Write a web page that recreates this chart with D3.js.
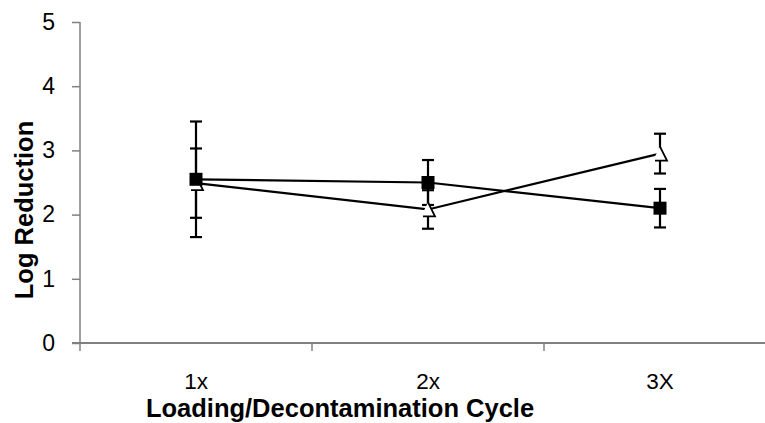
<!DOCTYPE html>
<html>
<head>
<meta charset="utf-8">
<script src="https://cdn.jsdelivr.net/npm/d3@7"></script>
<style>
  html, body { margin: 0; padding: 0; background: #fff; }
  svg { display: block; font-family: "Liberation Sans", Arial, sans-serif; }
</style>
</head>
<body>
<svg id="chart" width="765" height="423"></svg>
<script>
// ---- data ----
const categories = ["1x", "2x", "3X"];
const squareValues = [2.55, 2.50, 2.10];
const squareErrors = [0.90, 0.35, 0.30];
const triangleValues = [2.49, 2.08, 2.95];
const triangleErrors = [0.54, 0.30, 0.31];
const yTicks = [0, 1, 2, 3, 4, 5];

const svg = d3.select("#chart");
const x = d3.scaleBand().domain(categories).range([80, 776]).paddingInner(0).paddingOuter(0);
const y = d3.scaleLinear().domain([0, 5]).range([343, 22]);
const cx = c => x(c) + x.bandwidth() / 2;
const axisColor = "#808080";

// y axis
const yAxis = svg.append("g").attr("transform", "translate(80,0)")
  .call(d3.axisLeft(y).tickValues(yTicks).tickSize(8).tickPadding(17).tickFormat(d3.format("d")));
yAxis.select(".domain").remove();
yAxis.selectAll(".tick line").attr("stroke", axisColor).attr("stroke-width", 1.5);
yAxis.selectAll(".tick text").attr("font-size", 23).attr("fill", "#000")
  .attr("font-family", "'Liberation Sans', Arial, sans-serif");
svg.append("line").attr("x1", 80).attr("x2", 80).attr("y1", y(5)).attr("y2", y(0) + 8)
  .attr("stroke", axisColor).attr("stroke-width", 1.5);

// x axis
svg.append("line").attr("x1", 72).attr("x2", 776).attr("y1", y(0)).attr("y2", y(0))
  .attr("stroke", axisColor).attr("stroke-width", 2);
svg.append("g").selectAll("line").data(categories.slice(1)).join("line")
  .attr("x1", d => x(d)).attr("x2", d => x(d))
  .attr("y1", y(0)).attr("y2", y(0) + 8)
  .attr("stroke", axisColor).attr("stroke-width", 1.5);
const xAxis = svg.append("g").attr("transform", `translate(0,${y(0)})`)
  .call(d3.axisBottom(x).tickSize(0).tickPadding(30));
xAxis.select(".domain").remove();
xAxis.selectAll(".tick text").attr("font-size", 22.5).attr("fill", "#000")
  .attr("font-family", "'Liberation Sans', Arial, sans-serif");

// axis titles
svg.append("text").attr("x", 340).attr("y", 417).attr("text-anchor", "middle")
  .attr("font-size", 25.5).attr("font-weight", "bold").text("Loading/Decontamination Cycle");
svg.append("text").attr("transform", "translate(33,210) rotate(-90)").attr("text-anchor", "middle")
  .attr("font-size", 25.5).attr("font-weight", "bold").text("Log Reduction");

// lines
const line = d3.line().x((d, i) => cx(categories[i])).y(d => y(d));
svg.append("path").datum(triangleValues).attr("d", line)
  .attr("fill", "none").attr("stroke", "#000").attr("stroke-width", 2.2);
svg.append("path").datum(squareValues).attr("d", line)
  .attr("fill", "none").attr("stroke", "#000").attr("stroke-width", 2.2);

// error bars
function errorBars(vals, errs) {
  const g = svg.append("g").attr("stroke", "#000").attr("stroke-width", 2.2);
  vals.forEach((v, i) => {
    const xc = cx(categories[i]);
    const top = y(v + errs[i]), bot = y(v - errs[i]);
    g.append("line").attr("x1", xc).attr("x2", xc).attr("y1", top).attr("y2", bot);
    g.append("line").attr("x1", xc - 6).attr("x2", xc + 6).attr("y1", top).attr("y2", top);
    g.append("line").attr("x1", xc - 6).attr("x2", xc + 6).attr("y1", bot).attr("y2", bot);
  });
}
errorBars(triangleValues, triangleErrors);
errorBars(squareValues, squareErrors);

// triangle markers (white with partial outline)
triangleValues.forEach((v, i) => {
  const xc = cx(categories[i]), yc = y(v);
  svg.append("path")
    .attr("d", `M${xc},${yc - 7}L${xc + 7},${yc + 7}L${xc - 7},${yc + 7}Z`)
    .attr("fill", "#fff").attr("stroke", "none");
  svg.append("path")
    .attr("d", `M${xc},${yc - 7}L${xc + 7},${yc + 7}L${xc - 5},${yc + 7}`)
    .attr("fill", "none").attr("stroke", "#000").attr("stroke-width", 1.8);
});

// square markers
svg.append("g").selectAll("rect").data(squareValues).join("rect")
  .attr("x", (d, i) => cx(categories[i]) - 6.5)
  .attr("y", d => y(d) - 6.5)
  .attr("width", 13).attr("height", 13)
  .attr("fill", "#000");
</script>
</body>
</html>
